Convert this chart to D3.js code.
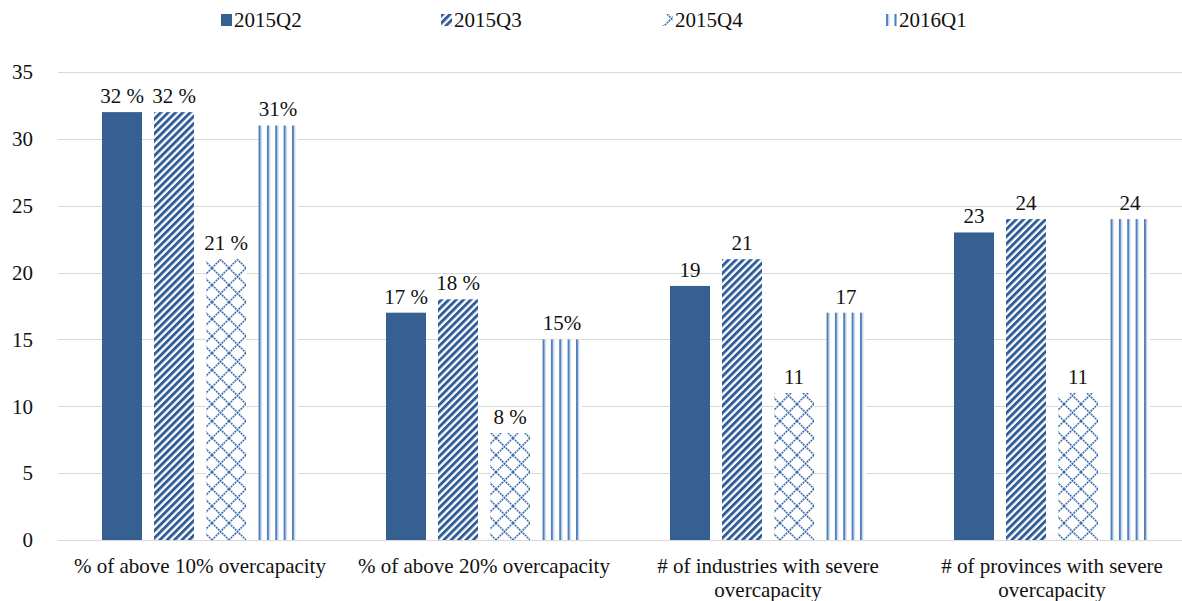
<!DOCTYPE html>
<html>
<head>
<meta charset="utf-8">
<script src="https://cdn.jsdelivr.net/npm/d3@7"></script>
<style>
  html, body { margin: 0; padding: 0; background: #fff; }
  svg { display: block; }
</style>
</head>
<body>
<svg id="chart" width="1182" height="601"></svg>
<script>
// Overcapacity survey results by quarter
const categories = [
  "% of above 10% overcapacity",
  "% of above 20% overcapacity",
  "# of industries with severe overcapacity",
  "# of provinces with severe overcapacity"
];
const seriesNames = ["2015Q2", "2015Q3", "2015Q4", "2016Q1"];
const values2015Q2 = [32, 17, 19, 23];
const values2015Q3 = [32, 18, 21, 24];
const values2015Q4 = [21, 8, 11, 11];
const values2016Q1 = [31, 15, 17, 24];
const labels2015Q2 = ["32 %", "17 %", "19", "23"];
const labels2015Q3 = ["32 %", "18 %", "21", "24"];
const labels2015Q4 = ["21 %", "8 %", "11", "11"];
const labels2016Q1 = ["31%", "15%", "17", "24"];
const yTicks = [0, 5, 10, 15, 20, 25, 30, 35];

const seriesValues = [values2015Q2, values2015Q3, values2015Q4, values2016Q1];
const seriesLabels = [labels2015Q2, labels2015Q3, labels2015Q4, labels2016Q1];

const FONT = "'Liberation Serif'";
const INK = "#111111";
const svg = d3.select("#chart");
const W = 1182;

const x0 = d3.scaleBand().domain(categories).range([58, 1194]).paddingInner(0).paddingOuter(0);
const x1 = d3.scaleBand().domain(seriesNames).range([44, x0.bandwidth() - 44]).paddingInner(12 / 52).paddingOuter(0);
const y = d3.scaleLinear().domain([0, 35]).range([540, 72]);

function serif(sel) {
  return sel.style("font-family", FONT).style("font-size", "21px").attr("fill", INK);
}

// Fill patterns
const defs = svg.append("defs");

const diag = defs.append("pattern")
  .attr("id", "pat-diag").attr("patternUnits", "userSpaceOnUse")
  .attr("width", 5.2).attr("height", 10).attr("patternTransform", "rotate(45)");
diag.append("rect").attr("width", 5.2).attr("height", 10).attr("fill", "#ffffff");
diag.append("rect").attr("width", 2.9).attr("height", 10).attr("fill", "#2f5d98");

const lat = 17;
const lattice = defs.append("pattern")
  .attr("id", "pat-lattice").attr("patternUnits", "userSpaceOnUse")
  .attr("width", lat).attr("height", lat).attr("x", 205).attr("y", 540 - lat * 10);
lattice.append("rect").attr("width", lat).attr("height", lat).attr("fill", "#ffffff");
lattice.append("path")
  .attr("d", `M0,0L${lat},${lat}M${lat},0L0,${lat}M-2,${lat - 2}L2,${lat + 2}M${lat - 2},-2L${lat + 2},2`)
  .attr("stroke", "#3f6fb0").attr("stroke-width", 1.6).attr("stroke-dasharray", "2,0.8").attr("fill", "none");

const vp = x0.bandwidth() / 34;
const vert = defs.append("pattern")
  .attr("id", "pat-vert").attr("patternUnits", "userSpaceOnUse")
  .attr("width", vp).attr("height", 10).attr("x", x0(categories[0]) + x1("2016Q1") + 1);
vert.append("rect").attr("width", vp).attr("height", 10).attr("fill", "#ffffff");
vert.append("rect").attr("width", 2).attr("height", 10).attr("fill", "#4f81bd");
vert.append("rect").attr("x", 2).attr("width", 1.2).attr("height", 10).attr("fill", "#b8cce4");

const fills = {
  "2015Q2": "#366092",
  "2015Q3": "url(#pat-diag)",
  "2015Q4": "url(#pat-lattice)",
  "2016Q1": "url(#pat-vert)"
};

// Gridlines
svg.append("g").selectAll("line").data(yTicks).join("line")
  .attr("x1", 58).attr("x2", W)
  .attr("y1", d => Math.round(y(d)) + 0.5).attr("y2", d => Math.round(y(d)) + 0.5)
  .attr("stroke", "#d9d9d9").attr("stroke-width", 1);

// Y axis labels
const yAxis = d3.axisLeft(y).tickValues(yTicks).tickSize(0).tickPadding(0);
const yg = svg.append("g").attr("transform", "translate(33,0)").call(yAxis);
yg.select(".domain").remove();
yg.attr("font-family", null).attr("font-size", null);
serif(yg.selectAll("text"));

// Bars
const groups = svg.append("g").selectAll("g").data(categories).join("g")
  .attr("transform", d => `translate(${x0(d)},0)`);

groups.each(function (cat, ci) {
  const g = d3.select(this);
  seriesNames.forEach((s, si) => {
    const v = seriesValues[si][ci];
    g.append("rect")
      .attr("x", x1(s)).attr("width", x1.bandwidth())
      .attr("y", y(v)).attr("height", y(0) - y(v))
      .attr("fill", fills[s]);
    serif(g.append("text"))
      .attr("x", x1(s) + x1.bandwidth() / 2).attr("y", y(v) - 9)
      .attr("text-anchor", "middle")
      .text(seriesLabels[si][ci]);
  });
});

// Category labels
const xAxis = d3.axisBottom(x0).tickSize(0).tickPadding(0);
const xg = svg.append("g").attr("transform", "translate(0,540)").call(xAxis);
xg.select(".domain").remove();
xg.attr("font-family", null).attr("font-size", null);
serif(xg.selectAll("text"))
  .attr("dy", null).attr("y", 0)
  .each(function (d) {
    const t = d3.select(this);
    const words = d.split(" ");
    const maxW = 270;
    let lines = [], line = [];
    t.text(null);
    const probe = t.append("tspan");
    words.forEach(w => {
      line.push(w);
      probe.text(line.join(" "));
      if (probe.node().getComputedTextLength() > maxW && line.length > 1) {
        line.pop();
        lines.push(line.join(" "));
        line = [w];
      }
    });
    lines.push(line.join(" "));
    probe.remove();
    lines.forEach((l, i) => {
      t.append("tspan").attr("x", 0).attr("y", 33 + i * 24).text(l);
    });
  });

// Legend
const legendX = [221, 441, 662, 886];
const legend = svg.append("g").selectAll("g").data(seriesNames).join("g")
  .attr("transform", (d, i) => `translate(${legendX[i]},14)`);
legend.append("rect").attr("width", 11).attr("height", 12).attr("fill", d => fills[d]);
serif(legend.append("text")).attr("x", 13).attr("y", 13)
  .text(d => d);
</script>
</body>
</html>
